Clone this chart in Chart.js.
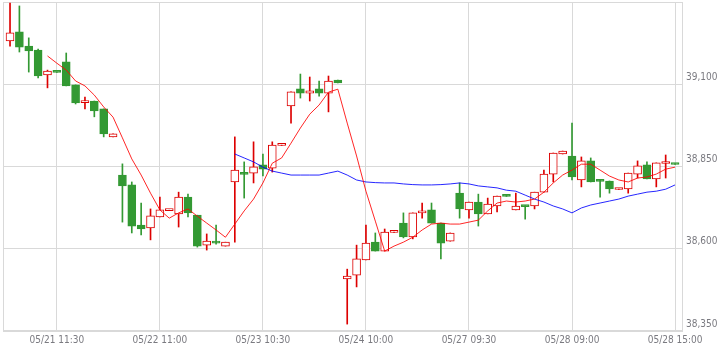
<!DOCTYPE html>
<html><head><meta charset="utf-8">
<script src="https://cdn.jsdelivr.net/npm/chart.js@4.4.1/dist/chart.umd.min.js"></script>
<style>html,body{margin:0;padding:0;background:#fff;}#wrap{width:719px;height:356px;position:relative;}</style>
</head><body><div id="wrap"><canvas id="c"></canvas></div>
<script>
// OHLC values per candle (index 0..71)
const opens  = [39232,39259,39216,39204,39128,39137,39168,39098,39044,39049,39025,38940,38824,38794,38672,38663,38697,38716,38706,38757,38702,38611,38623,38608,38803,38829,38830,38855,38845,38914,39034,39086,39073,39086,39073,39113,38508,38520,38566,38620,38593,38650,38678,38636,38709,38718,38678,38623,38769,38718,38742,38706,38730,38762,38718,38731,38730,38772,38827,38888,38882,38809,38867,38808,38806,38780,38782,38827,38855,38812,38859,38859];
const highs  = [39347,39338,39241,39207,39143,39137,39195,39098,39061,39049,39025,38949,38858,38803,38739,38721,38757,38719,38772,38766,38702,38645,38672,38620,38940,38864,38925,38888,38925,38917,39077,39131,39122,39110,39125,39113,38538,38611,38672,38648,38660,38653,38709,38709,38739,38739,38678,38648,38800,38742,38766,38754,38760,38762,38769,38731,38772,38839,38891,38897,38982,38879,38876,38808,38806,38783,38830,38867,38864,38861,38885,38859];
const lows   = [39216,39198,39137,39119,39089,39136,39095,39040,39025,39001,38940,38940,38681,38648,38642,38627,38697,38716,38666,38697,38605,38596,38614,38608,38620,38754,38800,38821,38833,38914,38982,39058,39049,39064,39016,39104,38371,38484,38566,38593,38593,38650,38633,38630,38693,38678,38569,38623,38693,38693,38669,38706,38712,38759,38718,38690,38721,38772,38803,38888,38809,38788,38803,38757,38769,38780,38769,38815,38812,38788,38815,38856];
const closes = [39256,39213,39201,39125,39140,39136,39095,39043,39048,39019,38949,38949,38791,38669,38660,38700,38718,38719,38757,38709,38608,38623,38617,38620,38839,38826,38849,38842,38915,38917,39077,39073,39080,39073,39110,39104,38517,38569,38617,38593,38651,38653,38636,38709,38715,38678,38617,38648,38721,38742,38706,38736,38760,38759,38730,38728,38772,38827,38891,38897,38818,38867,38803,38805,38782,38783,38830,38852,38812,38861,38862,38856];
// moving averages
const maShort = [null,null,null,null,39186,39164,39143,39110,39095,39067,39031,39000,38937,38873,38824,38769,38718,38693,38709,38721,38699,38678,38657,38635,38675,38715,38751,38800,38860,38876,38921,38967,39009,39037,39076,39085,38982,38882,38775,38684,38593,38608,38620,38635,38657,38675,38678,38675,38675,38681,38687,38715,38739,38745,38742,38745,38751,38772,38800,38824,38839,38857,38857,38839,38821,38809,38803,38815,38818,38827,38842,38848];
const maLong = [null,null,null,null,null,null,null,null,null,null,null,null,null,null,null,null,null,null,null,null,null,null,null,null,38888,38876,38864,38848,38836,38830,38824,38824,38824,38824,38830,38836,38824,38809,38803,38801,38800,38800,38797,38795,38794,38794,38795,38797,38800,38797,38791,38788,38785,38778,38775,38763,38751,38742,38730,38721,38709,38724,38733,38739,38745,38751,38760,38766,38772,38775,38781,38794];
const xTickIdx = [5,16,27,38,49,60,71];
const xTickLabels = ['05/21 11:30','05/22 11:00','05/23 10:30','05/24 10:00','05/27 09:30','05/28 09:00','05/28 15:00'];
const yTicks = [38350,38600,38850,39100];

const UP='#dd0000', DOWN='#339933', GRID='#d9d9d9', TXT='#7a7a80';
const FONT={family:"'DejaVu Sans Condensed','DejaVu Sans',sans-serif",size:10};
const isUp = opens.map((o,i)=>closes[i]>=o);
const wickData = opens.map((o,i)=>({x:i,y:[lows[i],highs[i]]}));
const bodyData = opens.map((o,i)=>({x:i,y:[o,closes[i]]}));
const fmt = v => String(v).replace(/\B(?=(\d{3})+(?!\d))/g, ',');

const frame={id:'frame',beforeDatasetsDraw(ch){const {ctx,chartArea:a}=ch;ctx.save();ctx.strokeStyle=GRID;ctx.lineWidth=1;
  ctx.strokeRect(Math.round(a.left)+0.5,Math.round(a.top)+0.5,Math.round(a.right-a.left)-1,Math.round(a.bottom-a.top)-1);ctx.restore();}};

new Chart(document.getElementById('c'),{
  type:'bar',
  data:{datasets:[
    {type:'line',data:maShort.map((v,i)=>({x:i,y:v})),borderColor:'rgba(255,0,0,0.85)',borderWidth:1,pointRadius:0,tension:0,order:0},
    {type:'line',data:maLong.map((v,i)=>({x:i,y:v})),borderColor:'rgba(0,0,255,0.85)',borderWidth:1,pointRadius:0,tension:0,order:1},
    {data:bodyData,backgroundColor:isUp.map(u=>u?'#ffffff':DOWN),borderColor:isUp.map(u=>u?UP:DOWN),borderWidth:1,borderSkipped:false,barThickness:8,minBarLength:2,grouped:false,order:2},
    {data:wickData,backgroundColor:isUp.map(u=>u?UP:DOWN),borderWidth:0,barThickness:1,grouped:false,order:3}
  ]},
  options:{
    responsive:true,maintainAspectRatio:false,animation:false,
    layout:{padding:{left:3,top:2,right:0,bottom:10}},
    plugins:{legend:{display:false},tooltip:{enabled:false}},
    scales:{
      x:{type:'linear',min:-0.75,max:71.85,offset:false,
        afterBuildTicks:s=>{s.ticks=xTickIdx.map(v=>({value:v}));},
        afterFit:s=>{s.height=15;s.paddingLeft=0;s.paddingRight=0;},
        ticks:{callback:v=>{const k=xTickIdx.indexOf(v);return k>=0?xTickLabels[k]:'';},maxRotation:0,autoSkip:false,padding:3,font:FONT,color:TXT},
        grid:{color:GRID,drawTicks:false,offset:false},border:{display:false}},
      y:{position:'right',min:38350,max:39350,beginAtZero:false,
        afterBuildTicks:s=>{s.ticks=yTicks.map(v=>({value:v}));},
        afterFit:s=>{s.width=36;s.paddingTop=0;s.paddingBottom=0;},
        ticks:{callback:v=>fmt(v),labelOffset:-7,crossAlign:'near',padding:3,font:FONT,color:TXT},
        grid:{color:GRID,drawTicks:false},border:{display:false}}
    }
  },
  plugins:[frame]
});
</script></body></html>
